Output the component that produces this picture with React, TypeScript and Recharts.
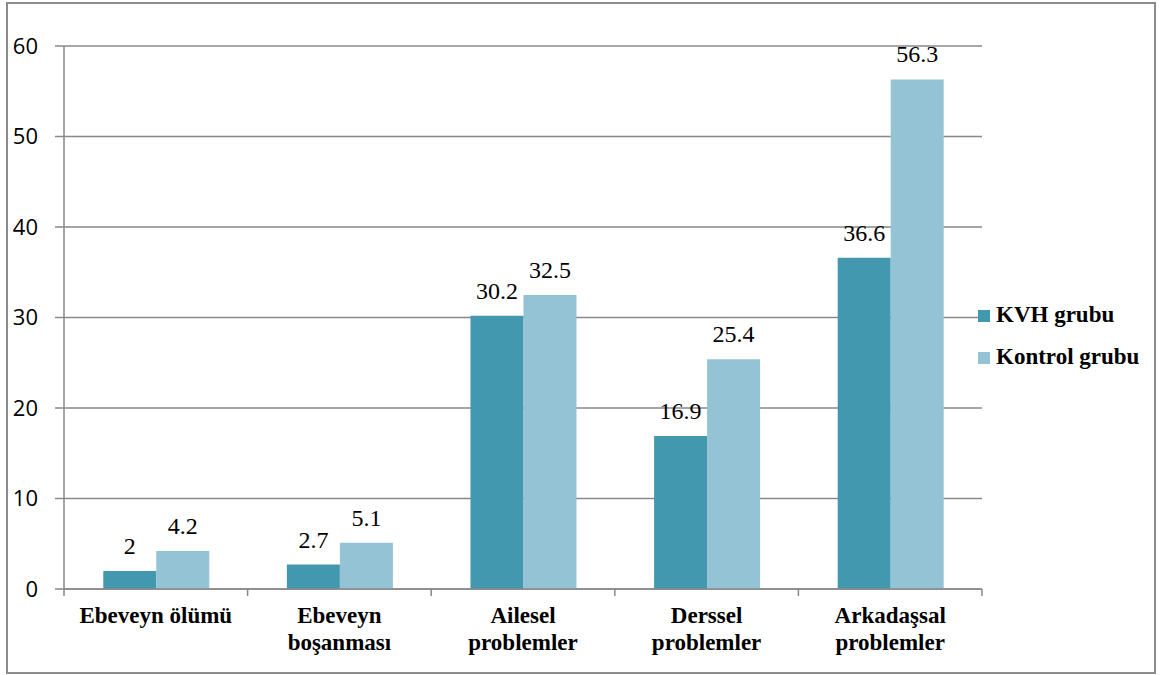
import React from 'react';
import { BarChart, Bar, XAxis, YAxis, CartesianGrid, Legend, LabelList } from 'recharts';

// Sorun alanları ve grup yüzdeleri
const categories = ['Ebeveyn ölümü', 'Ebeveyn boşanması', 'Ailesel problemler', 'Derssel problemler', 'Arkadaşsal problemler'];
const categoryLines = [
  ['Ebeveyn ölümü'],
  ['Ebeveyn', 'boşanması'],
  ['Ailesel', 'problemler'],
  ['Derssel', 'problemler'],
  ['Arkadaşsal', 'problemler'],
];
const kvhValues = [2, 2.7, 30.2, 16.9, 36.6];
const kontrolValues = [4.2, 5.1, 32.5, 25.4, 56.3];
const seriesNames = ['KVH grubu', 'Kontrol grubu'];
const yTicks = [0, 10, 20, 30, 40, 50, 60];

const data = categories.map((name, i) => ({
  name,
  kvh: kvhValues[i],
  kontrol: kontrolValues[i],
}));

const W = 1160;
const H = 675;
const MARGIN = { top: 46, right: 178, bottom: 0, left: 0 };
const Y_AXIS_W = 64;
const X_AXIS_H = 86;
const PLOT_W = W - MARGIN.left - MARGIN.right - Y_AXIS_W;
const BAND = PLOT_W / categories.length;

const GRID = '#888888';
const KVH_COLOR = '#4298AF';
const KONTROL_COLOR = '#93C3D5';
const SERIF = '"Liberation Serif", "DejaVu Serif", serif';
const SANS = '"Open Sans", "Noto Sans", sans-serif';

const CategoryTick = (props: any) => {
  const { x, y, payload, index } = props;
  const lines = categoryLines[index] ?? [payload.value];
  return (
    <g>
      <line x1={x - BAND / 2} x2={x - BAND / 2} y1={y} y2={y + 7} stroke={GRID} strokeWidth={1.5} />
      {index === categories.length - 1 && (
        <line x1={x + BAND / 2} x2={x + BAND / 2} y1={y} y2={y + 7} stroke={GRID} strokeWidth={1.5} />
      )}
      <text
        x={x}
        y={y + 34}
        textAnchor="middle"
        fontFamily={SERIF}
        fontWeight="bold"
        fontSize={23}
        fill="#000"
      >
        {lines.map((ln: string, k: number) => (
          <tspan key={k} x={x} dy={k === 0 ? 0 : 27}>
            {ln}
          </tspan>
        ))}
      </text>
    </g>
  );
};

// value printed above each bar
const ValueLabel = (props: any) => {
  const { x, y, width, value } = props;
  return (
    <text
      x={Number(x) + Number(width) / 2}
      y={Number(y) - 17}
      textAnchor="middle"
      fontFamily="Liberation Serif"
      fontWeight={400}
      fontSize={24}
      fill="#000"
    >
      {String(value)}
    </text>
  );
};

const LegendContent = () => {
  const colors = [KVH_COLOR, KONTROL_COLOR];
  return (
    <div>
      {seriesNames.map((n, i) => (
        <div key={n} style={{ display: 'flex', alignItems: 'center', height: 42 }}>
          <span
            style={{
              display: 'inline-block',
              width: 12,
              height: 12,
              background: colors[i],
              marginRight: 6,
              marginTop: 2,
            }}
          />
          <span
            style={{
              fontFamily: SERIF,
              fontWeight: 'bold',
              fontSize: 23,
              color: '#000',
              whiteSpace: 'nowrap',
            }}
          >
            {n}
          </span>
        </div>
      ))}
    </div>
  );
};

export default function App() {
  return (
    <div style={{ position: 'absolute', left: 0, top: 0, width: W, height: H, background: '#fff' }}>
      <div style={{ position: 'absolute', left: 0, top: 0 }}>
        <BarChart
          width={W}
          height={H}
          data={data}
          margin={MARGIN}
          barCategoryGap="21.4%"
          barGap={0}
        >
          <CartesianGrid vertical={false} stroke={GRID} strokeWidth={1.5} />
          <XAxis
            dataKey="name"
            height={X_AXIS_H}
            axisLine={{ stroke: GRID, strokeWidth: 1.5 }}
            tickLine={false}
            tickSize={0}
            tickMargin={0}
            interval={0}
            tick={<CategoryTick />}
          />
          <YAxis
            width={Y_AXIS_W}
            domain={[0, 60]}
            ticks={yTicks}
            interval={0}
            axisLine={{ stroke: GRID, strokeWidth: 1.5 }}
            tickLine={{ stroke: GRID, strokeWidth: 1.5 }}
            tickSize={9}
            tickMargin={17}
            tick={{ fill: '#000', fontSize: 22, fontFamily: SANS }}
          />
          <Legend
            layout="horizontal"
            align="center"
            verticalAlign="middle"
            content={<LegendContent />}
            wrapperStyle={{ position: 'absolute', left: 978, top: 294, width: 180, height: 84 }}
          />
          <Bar dataKey="kvh" name={seriesNames[0]} fill={KVH_COLOR} isAnimationActive={false}>
            <LabelList dataKey="kvh" content={ValueLabel} />
          </Bar>
          <Bar dataKey="kontrol" name={seriesNames[1]} fill={KONTROL_COLOR} isAnimationActive={false}>
            <LabelList dataKey="kontrol" content={ValueLabel} />
          </Bar>
        </BarChart>
      </div>
      <div
        style={{
          position: 'absolute',
          left: 6,
          top: 2,
          width: 1150,
          height: 672,
          border: '2px solid #8c8c8c',
          boxSizing: 'border-box',
          pointerEvents: 'none',
        }}
      />
    </div>
  );
}
